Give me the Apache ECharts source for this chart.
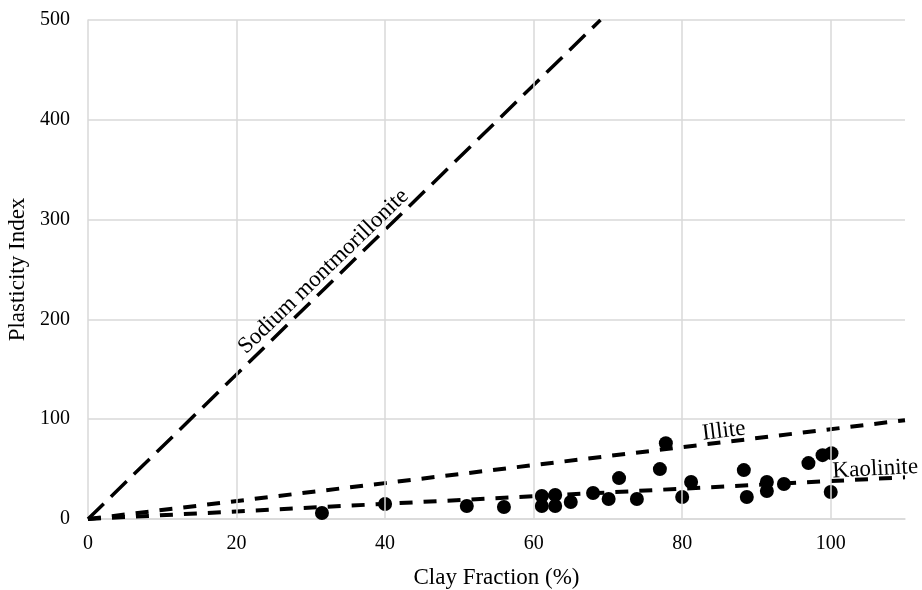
<!DOCTYPE html>
<html>
<head>
<meta charset="utf-8">
<script src="https://cdn.jsdelivr.net/npm/echarts@6/dist/echarts.min.js"></script>
<style>html,body{margin:0;padding:0;background:#fff}#c{width:922px;height:590px}</style>
</head>
<body>
<div id="c"></div>
<script>
var clayFraction = [31.5,40.0,51.0,56.0,61.1,61.1,62.9,62.9,65.0,68.0,70.1,71.5,73.9,77.0,77.8,81.2,80.0,88.3,88.7,91.4,91.4,93.7,97.0,98.9,100.1,100.0];
var plasticity   = [6,15,13,12,23,13,24,13,17,26,20,41,20,50,76,37,22,49,22,37,28,35,56,64,66,27];
var montmorilloniteLine = [[0,0],[69,500]];
var illiteLine = [[0,0],[110,99]];
var kaoliniteLine = [[0,0],[110,41.8]];
var lineLabels = [
  {name:'Sodium montmorillonite', x:31.7, y:248, rotate:44},
  {name:'Illite', x:85.6, y:88, rotate:7},
  {name:'Kaolinite', x:106, y:50, rotate:3}
];
var xTicks = [0,20,40,60,80,100];
var yTicks = [0,100,200,300,400,500];

var font = 'Liberation Serif';
var gridColor = '#d9d9d9';
var chart = echarts.init(document.getElementById('c'), null, {renderer:'canvas'});
var points = clayFraction.map(function(v,i){return [v, plasticity[i]];});
var series = [
  {type:'line', data:[], silent:true, z:1,
   markLine:{silent:true, symbol:['none','none'], label:{show:false}, animation:false,
     lineStyle:{color:gridColor, width:1.5, type:'solid'},
     data:xTicks.slice(1).map(function(v){return {xAxis:v};})}},
  {type:'line', data:montmorilloniteLine, symbol:'none', silent:true,
   lineStyle:{color:'#000', width:3.5, type:[22,10], cap:'butt'}, z:3},
  {type:'line', data:illiteLine, symbol:'none', silent:true,
   lineStyle:{color:'#000', width:4, type:[13,11], cap:'butt'}, z:3},
  {type:'line', data:kaoliniteLine, symbol:'none', silent:true,
   lineStyle:{color:'#000', width:4, type:[13,11], cap:'butt'}, z:3},
  {type:'scatter', data:points, symbol:'circle', symbolSize:14,
   itemStyle:{color:'#000', opacity:1}, z:4}
];
lineLabels.forEach(function(l){
  series.push({type:'scatter', data:[[l.x,l.y]], symbolSize:0, silent:true, z:5,
    itemStyle:{opacity:1},
    label:{show:true, position:'inside', formatter:l.name, rotate:l.rotate,
      fontFamily:font, fontSize:23, color:'#000', opacity:1}});
});
chart.setOption({
  animation:false,
  grid:{left:88, right:17, top:20, bottom:71, containLabel:false, outerBoundsMode:'none'},
  xAxis:{type:'value', min:0, max:110, interval:20,
    name:'Clay Fraction (%)', nameLocation:'middle', nameGap:47,
    nameTextStyle:{fontFamily:font, fontSize:23, color:'#000'},
    axisLine:{show:true, lineStyle:{color:gridColor, width:1.5}},
    axisTick:{show:false},
    axisLabel:{fontFamily:font, fontSize:20, color:'#000', margin:15, showMaxLabel:false,
      formatter:function(v){return xTicks.indexOf(v)>=0?String(v):'';}},
    splitLine:{show:false}
  },
  yAxis:{type:'value', min:0, max:500, interval:100,
    name:'Plasticity Index', nameLocation:'middle', nameGap:54,
    nameTextStyle:{fontFamily:font, fontSize:23, color:'#000'},
    axisLine:{show:true, lineStyle:{color:gridColor, width:1.5}},
    axisTick:{show:false},
    axisLabel:{fontFamily:font, fontSize:20, color:'#000', margin:18,
      formatter:function(v){return yTicks.indexOf(v)>=0?String(v):'';}},
    splitLine:{show:true, lineStyle:{color:gridColor, width:1.5}}
  },
  series:series
});
</script>
</body>
</html>
